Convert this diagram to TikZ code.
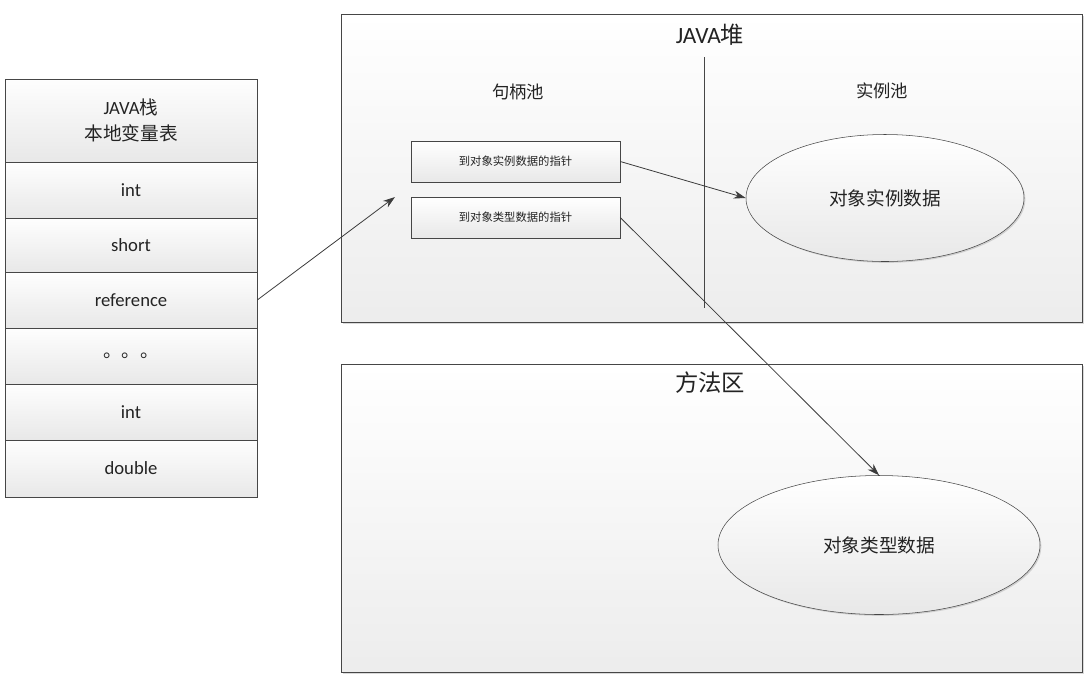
\documentclass[tikz,border=0pt]{standalone}
\usepackage{fontspec}
\setmainfont{Carlito}
\newfontfamily\cjk{Noto Sans CJK SC}
\usetikzlibrary{arrows.meta,shapes.geometric,shadows}
\definecolor{jvLine}  {RGB}{ 70, 70, 70}
\definecolor{jvText}  {RGB}{ 35, 35, 35}
\definecolor{jvTop}   {RGB}{254,254,254}
\definecolor{jvBottom}{RGB}{232,232,232}
\definecolor{jvArrow} {RGB}{ 60, 60, 60}

\begin{document}
\begin{tikzpicture}[x=0.75pt,y=-0.75pt,
  >={Stealth[length=9pt,width=6pt]},
  every node/.style={text=jvText,inner sep=0pt},
  cell/.style ={draw=jvLine,top color=jvTop,bottom color=jvBottom,
                minimum width=189pt,font=\fontsize{14}{19}\selectfont,align=center,
                drop shadow={shadow xshift=1pt,shadow yshift=-1pt,opacity=0.25}},
  area/.style ={draw=jvLine,top color=white,bottom color=jvBottom!80,
                minimum width=555.75pt,minimum height=231pt,
                drop shadow={shadow xshift=1.5pt,shadow yshift=-1.5pt,opacity=0.3}},
  handle/.style={draw=jvLine,top color=white,bottom color=jvBottom,
                minimum width=156.75pt,minimum height=30.75pt,
                font=\cjk\fontsize{8.5}{10}\selectfont,
                drop shadow={shadow xshift=1pt,shadow yshift=-1pt,opacity=0.3}},
  data/.style ={draw=jvLine,ellipse,top color=white,bottom color=jvBottom,
                font=\cjk\fontsize{14}{16}\selectfont,
                drop shadow={shadow xshift=1pt,shadow yshift=-1pt,opacity=0.3}},
  title/.style={font=\fontsize{17.5}{20}\selectfont},
  pool/.style ={font=\cjk\fontsize{13}{15}\selectfont},
  link/.style ={->,draw=jvArrow,line width=0.6pt}
]
\useasboundingbox (0,0) rectangle (1089,687);

% JAVA stack / local variable table
\node[cell,minimum height=62.25pt] (head) at (131,120.5) {JAVA{\cjk 栈}\\{\cjk 本地变量表}};
\node[cell,minimum height=42pt]    (i1)   at (131,190)   {int};
\node[cell,minimum height=40.5pt]  (sh)   at (131,245)   {short};
\node[cell,minimum height=42pt]    (ref)  at (131,300)   {reference};
\node[cell,minimum height=42pt]    (dots) at (131,356)   {{\cjk 。。。}};
\node[cell,minimum height=42pt]    (i2)   at (131,412)   {int};
\node[cell,minimum height=42.75pt] (dbl)  at (131,468.5) {double};

% heap and method area
\node[area] (heap)   at (711.5,168) {};
\node[area] (method) at (711.5,518) {};
\node[title] (heapT)   at (710,35)  {JAVA{\cjk 堆}};
\node[title,font=\cjk\fontsize{17.5}{20}\selectfont] (methodT) at (710,383) {方法区};
\draw[jvLine,line width=0.7pt] (704,57) -- (704,308);

\node[pool] (hpool) at (518,92) {句柄池};
\node[pool] (ipool) at (882,91) {实例池};

% handles
\node[handle] (toInst) at (515.5,161.5) {到对象实例数据的指针};
\node[handle] (toType) at (515.5,217.5) {到对象类型数据的指针};

% object data
\node[data,minimum width=208.5pt,minimum height=95.25pt] (inst) at (885,198) {对象实例数据};
\node[data,minimum width=241.5pt,minimum height=104.25pt] (type) at (879,545) {对象类型数据};

% arrows
\coordinate (refEnd) at (395,197);
\draw[link] (ref.east) -- (refEnd);
\draw[link] (toInst.east) -- (inst.west);
\draw[link] (toType.east) -- (type.north);
\end{tikzpicture}
\end{document}
